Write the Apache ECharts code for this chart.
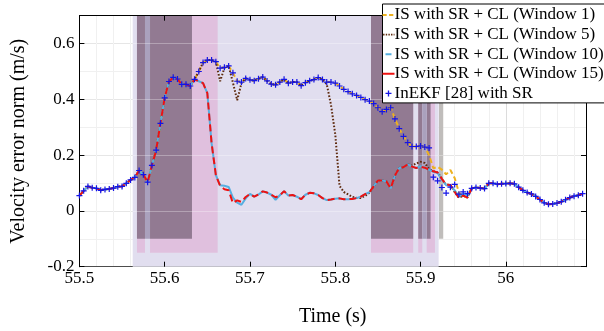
<!DOCTYPE html>
<html>
<head>
<meta charset="utf-8">
<script src="https://cdn.jsdelivr.net/npm/echarts@6/dist/echarts.min.js"></script>
<style>
  html, body { margin: 0; padding: 0; background: #fff; }
  #chart { width: 604px; height: 331px; }
</style>
</head>
<body>
<div id="chart"></div>
<script>
// Sample times (s), 200 Hz
const timeSec = [
  55.500, 55.505, 55.510, 55.515, 55.520, 55.525, 55.530, 55.535, 55.540, 55.545,
  55.550, 55.555, 55.560, 55.565, 55.570, 55.575, 55.580, 55.585, 55.590, 55.595,
  55.600, 55.605, 55.610, 55.615, 55.620, 55.625, 55.630, 55.635, 55.640, 55.645,
  55.650, 55.655, 55.660, 55.665, 55.670, 55.675, 55.680, 55.685, 55.690, 55.695,
  55.700, 55.705, 55.710, 55.715, 55.720, 55.725, 55.730, 55.735, 55.740, 55.745,
  55.750, 55.755, 55.760, 55.765, 55.770, 55.775, 55.780, 55.785, 55.790, 55.795,
  55.800, 55.805, 55.810, 55.815, 55.820, 55.825, 55.830, 55.835, 55.840, 55.845,
  55.850, 55.855, 55.860, 55.865, 55.870, 55.875, 55.880, 55.885, 55.890, 55.895,
  55.900, 55.905, 55.910, 55.915, 55.920, 55.925, 55.930, 55.935, 55.940, 55.945,
  55.950, 55.955, 55.960, 55.965, 55.970, 55.975, 55.980, 55.985, 55.990, 55.995,
  56.000, 56.005, 56.010, 56.015, 56.020, 56.025, 56.030, 56.035, 56.040, 56.045,
  56.050, 56.055, 56.060, 56.065, 56.070, 56.075, 56.080, 56.085, 56.090
];

// 55.500 - 55.635 s: every estimator agrees
const velCommonStart = [
  0.055, 0.072, 0.088, 0.083, 0.081, 0.074, 0.077, 0.079, 0.082, 0.087,
  0.088, 0.099, 0.111, 0.120, 0.145, 0.130, 0.103, 0.163, 0.218, 0.314,
  0.405, 0.464, 0.479, 0.473, 0.454, 0.454, 0.448, 0.472
];

// 55.960 - 56.090 s: every estimator agrees
const velCommonEnd = [
  0.081, 0.084, 0.082, 0.080, 0.099, 0.099, 0.096, 0.097, 0.098, 0.099,
  0.097, 0.085, 0.074, 0.066, 0.061, 0.052, 0.041, 0.029, 0.024, 0.025,
  0.028, 0.033, 0.040, 0.048, 0.053, 0.056, 0.062
];

// 55.640 - 55.955 s, per estimator
const velMidWindow1 = [
  0.500, 0.532, 0.541, 0.541, 0.535, 0.512, 0.515, 0.520, 0.495, 0.465,
  0.462, 0.475, 0.470, 0.467, 0.474, 0.480, 0.466, 0.455, 0.452, 0.462,
  0.472, 0.458, 0.462, 0.462, 0.449, 0.460, 0.467, 0.471, 0.478, 0.471,
  0.462, 0.462, 0.458, 0.448, 0.436, 0.428, 0.420, 0.414, 0.407, 0.399,
  0.394, 0.385, 0.370, 0.356, 0.364, 0.370, 0.330, 0.295, 0.267, 0.245,
  0.231, 0.231, 0.233, 0.229, 0.200, 0.153, 0.158, 0.148, 0.131, 0.147,
  0.118, 0.066, 0.050, 0.053
];
const velMidWindow5 = [
  0.500, 0.532, 0.541, 0.541, 0.535, 0.465, 0.512, 0.520, 0.460, 0.397,
  0.458, 0.475, 0.470, 0.467, 0.474, 0.480, 0.466, 0.455, 0.452, 0.462,
  0.472, 0.458, 0.462, 0.462, 0.449, 0.460, 0.467, 0.471, 0.478, 0.471,
  0.455, 0.380, 0.275, 0.090, 0.068, 0.059, 0.050, 0.047, 0.046, 0.054,
  0.065, 0.088, 0.109, 0.109, 0.106, 0.081, 0.127, 0.154, 0.157, 0.167,
  0.162, 0.170, 0.176, 0.172, 0.150, 0.142, 0.138, 0.115, 0.094, 0.093,
  0.068, 0.047, 0.055, 0.048
];
const velMidWindow10 = [
  0.465, 0.458, 0.422, 0.243, 0.128, 0.092, 0.090, 0.086, 0.048, 0.030,
  0.022, 0.045, 0.061, 0.051, 0.059, 0.070, 0.066, 0.058, 0.040, 0.056,
  0.071, 0.055, 0.057, 0.051, 0.042, 0.058, 0.065, 0.063, 0.057, 0.046,
  0.039, 0.041, 0.044, 0.045, 0.042, 0.042, 0.043, 0.046, 0.051, 0.060,
  0.067, 0.088, 0.109, 0.109, 0.106, 0.081, 0.127, 0.154, 0.157, 0.167,
  0.159, 0.154, 0.160, 0.155, 0.148, 0.140, 0.136, 0.112, 0.092, 0.090,
  0.074, 0.052, 0.062, 0.056
];
const velMidWindow15 = [
  0.465, 0.458, 0.422, 0.243, 0.128, 0.090, 0.078, 0.074, 0.028, 0.038,
  0.032, 0.050, 0.061, 0.051, 0.059, 0.070, 0.066, 0.058, 0.049, 0.056,
  0.071, 0.055, 0.057, 0.051, 0.042, 0.058, 0.065, 0.063, 0.057, 0.046,
  0.039, 0.041, 0.044, 0.045, 0.042, 0.042, 0.043, 0.046, 0.051, 0.060,
  0.067, 0.088, 0.109, 0.109, 0.106, 0.081, 0.127, 0.154, 0.157, 0.167,
  0.159, 0.154, 0.158, 0.155, 0.148, 0.142, 0.138, 0.115, 0.094, 0.093,
  0.068, 0.047, 0.055, 0.048
];
const velMidInEKF = [
  0.500, 0.532, 0.541, 0.541, 0.535, 0.512, 0.515, 0.520, 0.495, 0.465,
  0.462, 0.475, 0.470, 0.467, 0.474, 0.480, 0.466, 0.455, 0.452, 0.462,
  0.472, 0.458, 0.462, 0.462, 0.449, 0.460, 0.467, 0.471, 0.478, 0.471,
  0.462, 0.462, 0.458, 0.448, 0.436, 0.428, 0.420, 0.414, 0.407, 0.399,
  0.394, 0.385, 0.370, 0.356, 0.364, 0.370, 0.330, 0.295, 0.267, 0.245,
  0.231, 0.231, 0.233, 0.229, 0.226, 0.121, 0.108, 0.084, 0.064, 0.085,
  0.095, 0.060, 0.068, 0.062
];

const seriesNames = [
  'IS with SR + CL (Window 1)',
  'IS with SR + CL (Window 5)',
  'IS with SR + CL (Window 10)',
  'IS with SR + CL (Window 15)',
  'InEKF [28] with SR'
];

// Time intervals of the shaded phases: [start, end] in seconds
const phaseSpans = [[55.5625, 55.9212]];
const pinkSpans = [
  [55.5675, 55.5769], [55.5828, 55.6621], [55.8419, 55.8914],
  [55.8973, 55.9020], [55.9072, 55.9169]
];
const darkSpans = [
  [55.5675, 55.5769], [55.5828, 55.6320], [55.8419, 55.8914],
  [55.8973, 55.9020], [55.9072, 55.9118]
];
const greySpans = [[55.5769, 55.5828], [55.9020, 55.9072]];
const greyOutsideSpans = [[55.9216, 55.9266]];

// Vertical reach of each kind of shading (m/s)
const phaseFloor = -0.2, pinkFloor = -0.15, greyFloor = -0.1, shadeTop = 0.7;

const X_MIN = 55.5, X_MAX = 56.094, Y_MIN = -0.2, Y_MAX = 0.7;

function pairs(mid) {
  const v = velCommonStart.concat(mid, velCommonEnd);
  return timeSec.map((t, i) => [t, v[i]]);
}

function spansToRects(spans, floor) {
  return spans.map(s => [s[0], s[1], floor, shadeTop]);
}

function rectRenderer(fill) {
  return function (params, api) {
    const a = api.coord([api.value(0), api.value(3)]);
    const b = api.coord([api.value(1), api.value(2)]);
    return {
      type: 'rect',
      shape: { x: a[0], y: a[1], width: b[0] - a[0], height: b[1] - a[1] },
      style: { fill: fill }
    };
  };
}

function bandSeries(spans, floor, fill) {
  return {
    type: 'custom',
    renderItem: rectRenderer(fill),
    data: spansToRects(spans, floor),
    encode: { x: [0, 1], y: [2, 3] },
    z: 1,
    silent: true
  };
}

const FONT = 'Liberation Serif';
const plusPath = 'path://M4,0H6V4H10V6H6V10H4V6H0V4H4Z';
// Legend glyphs drawn in a 20x20 frame (tiny corner specks fix the frame size)
const FRAME = 'M0,0h0.01v0.01h-0.01zM20,20h0.01v0.01h-0.01z';
const iconDashed = 'path://' + FRAME + 'M0,8.3H7V11.7H0ZM11,8.3H18V11.7H11Z';
const iconDotted = 'path://' + FRAME + 'M1,8.6H3.4V11.4H1ZM5.4,8.6H7.8V11.4H5.4ZM9.8,8.6H12.2V11.4H9.8ZM14.2,8.6H16.6V11.4H14.2ZM18.6,8.6H20V11.4H18.6Z';
const iconShort = 'path://' + FRAME + 'M5,8.3H15V11.7H5Z';
const iconSolid = 'path://' + FRAME + 'M0,8.3H20V11.7H0Z';
const iconPlus = 'path://' + FRAME + 'M8.9,5H11.1V8.9H15V11.1H11.1V15H8.9V11.1H5V8.9H8.9Z';

const chart = echarts.init(document.getElementById('chart'), null, { renderer: 'canvas' });

const baseX = { type: 'value', min: X_MIN, max: X_MAX, interval: 0.1 };
const baseY = { type: 'value', min: Y_MIN, max: Y_MAX, interval: 0.2 };

chart.setOption({
  animation: false,
  backgroundColor: '#fff',
  grid: { left: 79.4, right: 18, top: 15.7, bottom: 64.3, containLabel: false, outerBoundsMode: 'none' },
  legend: {
    orient: 'vertical',
    left: 382.5,
    top: 4,
    padding: [2.5, 4, 1, 0],
    itemGap: 2.6,
    itemWidth: 12,
    itemHeight: 12,
    backgroundColor: '#fff',
    borderColor: '#000',
    borderWidth: 1,
    z: 20,
    textStyle: { fontFamily: FONT, fontSize: 17, color: '#000', padding: [0, 0, 0, -5] },
    data: [
      { name: seriesNames[0], icon: iconDashed },
      { name: seriesNames[1], icon: iconDotted },
      { name: seriesNames[2], icon: iconShort },
      { name: seriesNames[3], icon: iconSolid },
      { name: seriesNames[4], icon: iconPlus }
    ]
  },
  xAxis: [
    Object.assign({}, baseX, {
      position: 'bottom', z: 0,
      name: 'Time (s)', nameLocation: 'middle', nameGap: 40,
      nameTextStyle: { fontFamily: FONT, fontSize: 20, color: '#000' },
      axisLine: { show: true, onZero: false, lineStyle: { color: '#000', width: 1 } },
      axisTick: { show: false },
      axisLabel: { show: true, margin: 3, fontFamily: FONT, fontSize: 17, color: '#000', showMaxLabel: false },
      splitLine: { show: true, lineStyle: { color: '#dcdcdc', width: 1 } },
      minorTick: { show: false, splitNumber: 5 },
      minorSplitLine: { show: true, lineStyle: { color: '#f0f0f0', width: 1 } }
    }),
    Object.assign({}, baseX, {
      position: 'bottom', z: 3,
      axisLine: { show: false, onZero: false },
      axisTick: { show: true, inside: true, length: 5, lineStyle: { color: '#000' } },
      axisLabel: { show: false },
      splitLine: { show: false }
    }),
    Object.assign({}, baseX, {
      position: 'top', z: 3,
      axisLine: { show: true, onZero: false, lineStyle: { color: '#000', width: 1 } },
      axisTick: { show: true, inside: true, length: 5, lineStyle: { color: '#000' } },
      axisLabel: { show: false },
      splitLine: { show: false }
    })
  ],
  yAxis: [
    Object.assign({}, baseY, {
      position: 'left', z: 0,
      name: 'Velocity error norm (m/s)', nameLocation: 'middle', nameGap: 51,
      nameTextStyle: { fontFamily: FONT, fontSize: 20, color: '#000' },
      axisLine: { show: true, onZero: false, lineStyle: { color: '#000', width: 1 } },
      axisTick: { show: false },
      axisLabel: { show: true, margin: 5, fontFamily: FONT, fontSize: 17, color: '#000', showMaxLabel: false },
      splitLine: { show: true, lineStyle: { color: '#dcdcdc', width: 1 } },
      minorTick: { show: false, splitNumber: 2 },
      minorSplitLine: { show: true, lineStyle: { color: '#f0f0f0', width: 1 } }
    }),
    Object.assign({}, baseY, {
      position: 'left', z: 3,
      axisLine: { show: true, onZero: false, lineStyle: { color: '#000', width: 1 } },
      axisTick: { show: true, inside: true, length: 5, lineStyle: { color: '#000' } },
      axisLabel: { show: false },
      splitLine: { show: true, lineStyle: { color: 'rgba(255,255,255,0.3)', width: 1 } }
    }),
    Object.assign({}, baseY, {
      position: 'right', z: 3,
      axisLine: { show: true, onZero: false, lineStyle: { color: '#000', width: 1 } },
      axisTick: { show: true, inside: true, length: 5, lineStyle: { color: '#000' } },
      axisLabel: { show: false },
      splitLine: { show: false }
    })
  ],
  series: [
    bandSeries(phaseSpans, phaseFloor, '#e1deef'),
    bandSeries(pinkSpans, pinkFloor, '#e0c0de'),
    bandSeries(darkSpans, greyFloor, '#927a92'),
    bandSeries(greySpans, greyFloor, '#aaa1bd'),
    bandSeries(greyOutsideSpans, greyFloor, '#c0bdbb'),
    {
      name: seriesNames[0], type: 'line', data: pairs(velMidWindow1),
      symbol: 'none', z: 5, silent: true,
      lineStyle: { color: '#edb120', width: 2, type: [5, 3] },
      itemStyle: { color: '#edb120' }
    },
    {
      name: seriesNames[1], type: 'line', data: pairs(velMidWindow5),
      symbol: 'none', z: 6, silent: true,
      lineStyle: { color: '#5e2a0e', width: 2, type: [1.6, 1.8] },
      itemStyle: { color: '#5e2a0e' }
    },
    {
      name: seriesNames[2], type: 'line', data: pairs(velMidWindow10),
      symbol: 'none', z: 7, silent: true,
      lineStyle: { color: '#56aee0', width: 2 },
      itemStyle: { color: '#56aee0' }
    },
    {
      name: seriesNames[3], type: 'line', data: pairs(velMidWindow15),
      symbol: 'none', z: 8, silent: true,
      lineStyle: { color: '#ee1111', width: 2, type: [7, 4] },
      itemStyle: { color: '#ee1111' }
    },
    {
      name: seriesNames[4], type: 'scatter', data: pairs(velMidInEKF),
      symbol: plusPath, symbolSize: 6, z: 9, silent: true,
      itemStyle: { color: '#1414e6', opacity: 1 }
    }
  ]
});
</script>
</body>
</html>
